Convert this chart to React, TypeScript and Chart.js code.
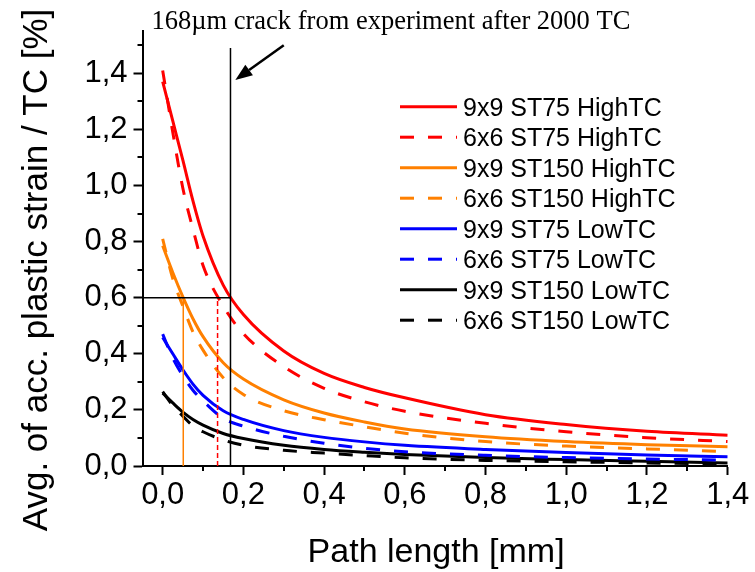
import React, { useEffect, useRef } from 'react';
import { Chart, registerables } from 'chart.js';

Chart.register(...registerables);

// ---------- data ----------
const pathLength = [0, 0.025, 0.05, 0.075, 0.1, 0.15, 0.2, 0.3, 0.4, 0.5, 0.6, 0.8, 1.0, 1.2, 1.4];

const st75High9x9 = [1.37, 1.23, 1.09, 0.945, 0.82, 0.645, 0.54, 0.41, 0.33, 0.28, 0.243, 0.183, 0.148, 0.124, 0.11];
const st75High6x6 = [1.41, 1.19, 0.99, 0.845, 0.715, 0.57, 0.472, 0.354, 0.277, 0.229, 0.195, 0.152, 0.122, 0.101, 0.087];
const st150High9x9 = [0.785, 0.69, 0.603, 0.525, 0.461, 0.368, 0.31, 0.236, 0.189, 0.157, 0.132, 0.104, 0.087, 0.076, 0.069];
const st150High6x6 = [0.81, 0.668, 0.57, 0.478, 0.413, 0.315, 0.255, 0.197, 0.165, 0.14, 0.117, 0.087, 0.071, 0.061, 0.051];
const st75Low9x9 = [0.458, 0.4, 0.343, 0.292, 0.252, 0.197, 0.166, 0.126, 0.102, 0.086, 0.074, 0.059, 0.048, 0.039, 0.033];
const st75Low6x6 = [0.47, 0.385, 0.322, 0.27, 0.232, 0.17, 0.142, 0.106, 0.081, 0.063, 0.051, 0.038, 0.03, 0.025, 0.021];
const st150Low9x9 = [0.26, 0.225, 0.192, 0.166, 0.146, 0.116, 0.098, 0.074, 0.059, 0.049, 0.041, 0.03, 0.023, 0.017, 0.011];
const st150Low6x6 = [0.265, 0.215, 0.178, 0.143, 0.122, 0.093, 0.074, 0.056, 0.046, 0.037, 0.029, 0.02, 0.015, 0.011, 0.006];

const seriesLabels = [
  '9x9 ST75 HighTC',
  '6x6 ST75 HighTC',
  '9x9 ST150 HighTC',
  '6x6 ST150 HighTC',
  '9x9 ST75 LowTC',
  '6x6 ST75 LowTC',
  '9x9 ST150 LowTC',
  '6x6 ST150 LowTC',
];
const seriesValues = [st75High9x9, st75High6x6, st150High9x9, st150High6x6, st75Low9x9, st75Low6x6, st150Low9x9, st150Low6x6];
const seriesColors = ['#ff0000', '#ff0000', '#ff8000', '#ff8000', '#0000ff', '#0000ff', '#000000', '#000000'];
const seriesDashed = [false, true, false, true, false, true, false, true];

// marker lines
const crackLineX = [0.168, 0.168];
const crackLineY = [0, 1.49];
const levelLineX = [-0.05, 0.168];
const levelLineY = [0.6, 0.6];
const orangeLineX = [0.051, 0.051];
const orangeLineY = [0, 0.6];
const redDashLineX = [0.136, 0.136];
const redDashLineY = [0, 0.6];
const arrowX = [0.30, 0.18];
const arrowY = [1.5, 1.376];

const annotationText = '168\u00b5m crack from experiment after 2000 TC';
const xTitle = 'Path length [mm]';
const yTitle = 'Avg. of acc. plastic strain / TC [%]';

const xMajorTicks = [0, 0.2, 0.4, 0.6, 0.8, 1.0, 1.2, 1.4];
const xMinorTicks = [0.1, 0.3, 0.5, 0.7, 0.9, 1.1, 1.3];
const yMajorTicks = [0, 0.2, 0.4, 0.6, 0.8, 1.0, 1.2, 1.4];
const yMinorTicks = [0.1, 0.3, 0.5, 0.7, 0.9, 1.1, 1.3, 1.5];

const SANS = '"Liberation Sans", Arial, sans-serif';
const SERIF = '"Liberation Serif", "Times New Roman", serif';
const DASH = [14, 14];

const fmt = (v: number) => v.toFixed(1).replace('.', ',');
const pts = (xs: number[], ys: number[]) => xs.map((x, i) => ({ x, y: ys[i] }));

const overlayPlugin = {
  id: 'overlay',
  afterDraw(chart: any) {
    const { ctx, chartArea } = chart;
    const xs = chart.scales.x;
    const ys = chart.scales.y;
    ctx.save();
    // minor ticks
    ctx.strokeStyle = '#000';
    ctx.lineWidth = 2;
    ctx.setLineDash([]);
    xMinorTicks.forEach((v) => {
      const px = Math.round(xs.getPixelForValue(v));
      ctx.beginPath();
      ctx.moveTo(px, chartArea.bottom);
      ctx.lineTo(px, chartArea.bottom + 5);
      ctx.stroke();
    });
    yMinorTicks.forEach((v) => {
      const py = Math.round(ys.getPixelForValue(v));
      ctx.beginPath();
      ctx.moveTo(chartArea.left, py);
      ctx.lineTo(chartArea.left - 5, py);
      ctx.stroke();
    });

    // arrow
    const x0 = xs.getPixelForValue(arrowX[0]);
    const y0 = ys.getPixelForValue(arrowY[0]);
    const x1 = xs.getPixelForValue(arrowX[1]);
    const y1 = ys.getPixelForValue(arrowY[1]);
    const ang = Math.atan2(y1 - y0, x1 - x0);
    const headLen = 17;
    const headW = 6.5;
    const bx = x1 - headLen * Math.cos(ang);
    const by = y1 - headLen * Math.sin(ang);
    ctx.lineWidth = 2.5;
    ctx.beginPath();
    ctx.moveTo(x0, y0);
    ctx.lineTo(bx, by);
    ctx.stroke();
    ctx.fillStyle = '#000';
    ctx.beginPath();
    ctx.moveTo(x1, y1);
    ctx.lineTo(bx + headW * Math.sin(ang), by - headW * Math.cos(ang));
    ctx.lineTo(bx - headW * Math.sin(ang), by + headW * Math.cos(ang));
    ctx.closePath();
    ctx.fill();

    // annotation text
    ctx.font = `26.5px ${SERIF}`;
    ctx.textAlign = 'left';
    ctx.textBaseline = 'alphabetic';
    ctx.fillText(annotationText, 151.5, 29);

    // legend
    const legX0 = 400;
    const legX1 = 457;
    const legTextX = 463;
    const legTop = 106.7;
    const legStep = 30.5;
    ctx.font = `25px ${SANS}`;
    seriesLabels.forEach((label, i) => {
      const yy = legTop + i * legStep;
      ctx.strokeStyle = seriesColors[i];
      ctx.lineWidth = 3;
      ctx.setLineDash(seriesDashed[i] ? DASH : []);
      ctx.beginPath();
      ctx.moveTo(legX0, yy);
      ctx.lineTo(legX1, yy);
      ctx.stroke();
      ctx.setLineDash([]);
      ctx.fillStyle = '#000';
      ctx.fillText(label, legTextX, yy + 9);
    });

    // axis titles
    ctx.fillStyle = '#000';
    ctx.font = `34px ${SANS}`;
    ctx.textAlign = 'center';
    ctx.fillText(xTitle, (chartArea.left + chartArea.right) / 2 + 1, 562);
    ctx.save();
    ctx.translate(46.5, 270);
    ctx.rotate(-Math.PI / 2);
    ctx.font = `35px ${SANS}`;
    ctx.fillText(yTitle, 0, 0);
    ctx.restore();

    ctx.restore();
  },
};

export default function App() {
  const ref = useRef<HTMLCanvasElement | null>(null);

  useEffect(() => {
    if (!ref.current) return;
    const curveSets = seriesLabels.map((label, i) => ({
      label,
      data: pts(pathLength, seriesValues[i]),
      borderColor: seriesColors[i],
      backgroundColor: seriesColors[i],
      borderWidth: 3,
      borderDash: seriesDashed[i] ? DASH : [],
      pointRadius: 0,
      cubicInterpolationMode: 'monotone' as const,
      fill: false,
    }));
    const markerSets = [
      { label: 'crack', data: pts(crackLineX, crackLineY), borderColor: '#000000', borderWidth: 1.5, borderDash: [] },
      { label: 'level', data: pts(levelLineX, levelLineY), borderColor: '#000000', borderWidth: 1.5, borderDash: [] },
      { label: 'orange', data: pts(orangeLineX, orangeLineY), borderColor: '#ff8000', borderWidth: 1.5, borderDash: [] },
      { label: 'reddash', data: pts(redDashLineX, redDashLineY), borderColor: '#ff0000', borderWidth: 1.5, borderDash: [5, 3] },
    ].map((d) => ({ ...d, pointRadius: 0, fill: false }));

    const chart = new Chart(ref.current, {
      type: 'line',
      data: { datasets: [...markerSets, ...curveSets] as any },
      options: {
        animation: false,
        responsive: false,
        devicePixelRatio: 1,
        layout: { padding: { top: 31.2, right: 27.3, left: 0, bottom: 0 } },
        plugins: {
          legend: { display: false },
          tooltip: { enabled: false },
          title: { display: false },
        },
        scales: {
          x: {
            type: 'linear',
            min: -0.05,
            max: 1.4,
            afterFit: (s: any) => {
              s.height = 106;
            },
            afterBuildTicks: (s: any) => {
              s.ticks = xMajorTicks.map((v) => ({ value: v }));
            },
            border: { display: true, color: '#000', width: 2 },
            grid: { drawOnChartArea: false, drawTicks: true, tickLength: 9, tickWidth: 2, tickColor: '#000' },
            ticks: {
              color: '#000',
              font: { family: SANS, size: 31 },
              padding: 2,
              maxRotation: 0,
              autoSkip: false,
              callback: (v: any) => fmt(Number(v)),
            },
          },
          y: {
            type: 'linear',
            min: 0,
            max: 1.55,
            afterFit: (s: any) => {
              s.width = 142.5;
            },
            afterBuildTicks: (s: any) => {
              s.ticks = yMajorTicks.map((v) => ({ value: v }));
            },
            border: { display: true, color: '#000', width: 2 },
            grid: { drawOnChartArea: false, drawTicks: true, tickLength: 9, tickWidth: 2, tickColor: '#000' },
            ticks: {
              color: '#000',
              font: { family: SANS, size: 31 },
              padding: 6,
              autoSkip: false,
              callback: (v: any) => fmt(Number(v)),
            },
          },
        },
      },
      plugins: [overlayPlugin],
    });
    return () => chart.destroy();
  }, []);

  return (
    <div style={{ position: 'fixed', left: 0, top: 0, width: 755, height: 572, background: '#fff' }}>
      <canvas ref={ref} width={755} height={572} style={{ width: 755, height: 572, display: 'block' }} />
    </div>
  );
}
